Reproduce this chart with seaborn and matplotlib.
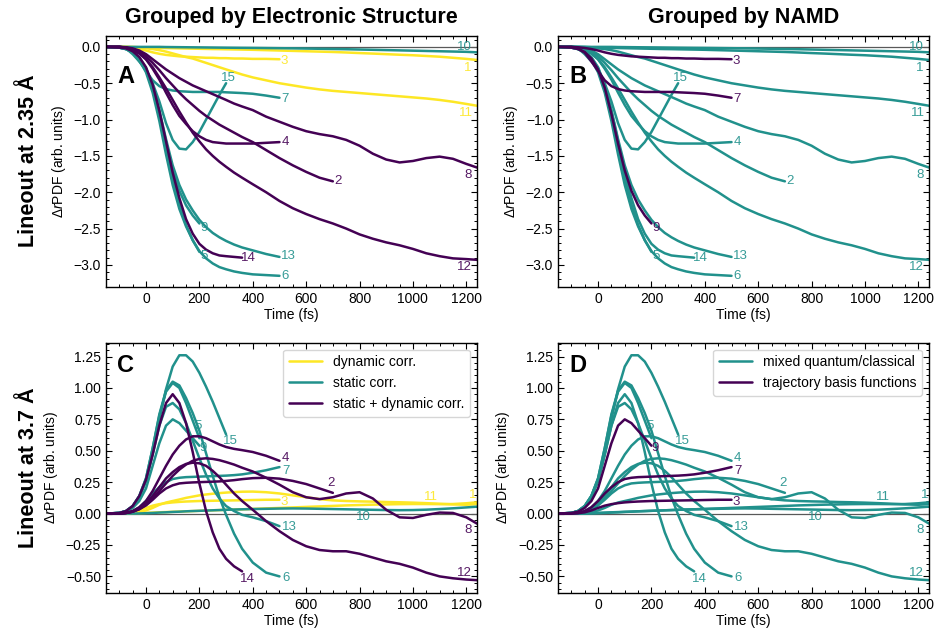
import matplotlib
matplotlib.use('Agg')
from matplotlib import pyplot as plt
from matplotlib.ticker import AutoMinorLocator, MultipleLocator
import seaborn as sns
import pandas as pd

# common time grid (fs); shorter trajectories use the first part of it
TIME = [-150, -100, -75, -50, -25, 0, 25, 50, 75, 100, 125, 150, 175, 200, 225,
        250, 275, 300, 330, 360, 400, 450, 500, 550, 600, 650, 700, 750, 800,
        850, 900, 950, 1000, 1050, 1100, 1150, 1200, 1240]

# lineout at 2.35 A
r235_1 = [0, 0, 0, 0, -0.005, -0.01, -0.012, -0.014, -0.016, -0.018, -0.02, -0.022, -0.024,
          -0.026, -0.028, -0.03, -0.031, -0.033, -0.035, -0.037, -0.04, -0.045, -0.05, -0.055,
          -0.06, -0.065, -0.07, -0.077, -0.085, -0.092, -0.1, -0.108, -0.115, -0.125, -0.135,
          -0.15, -0.165, -0.18]
r235_2 = [0, 0, -0.01, -0.03, -0.07, -0.13, -0.22, -0.32, -0.43, -0.53, -0.63, -0.72, -0.8,
          -0.88, -0.95, -1.01, -1.07, -1.12, -1.18, -1.24, -1.31, -1.42, -1.53, -1.63, -1.72,
          -1.8, -1.85]
r235_3 = [0, 0, -0.005, -0.015, -0.03, -0.05, -0.075, -0.095, -0.11, -0.12, -0.13, -0.135,
          -0.14, -0.145, -0.15, -0.15, -0.155, -0.155, -0.16, -0.16, -0.165, -0.165, -0.17]
r235_4 = [0, 0, -0.01, -0.04, -0.09, -0.17, -0.3, -0.45, -0.63, -0.8, -0.95, -1.06, -1.16,
          -1.23, -1.28, -1.31, -1.32, -1.33, -1.33, -1.33, -1.33, -1.32, -1.31]
r235_5 = [0, -0.01, -0.03, -0.08, -0.18, -0.35, -0.63, -1.02, -1.48, -1.9, -2.23, -2.47,
          -2.66, -2.82]
r235_6 = [0, -0.01, -0.03, -0.07, -0.16, -0.31, -0.57, -0.95, -1.4, -1.82, -2.17, -2.45,
          -2.66, -2.81, -2.91, -2.98, -3.03, -3.06, -3.09, -3.11, -3.13, -3.14, -3.15]
r235_7 = [0, 0, -0.02, -0.08, -0.2, -0.33, -0.46, -0.54, -0.58, -0.6, -0.61, -0.615, -0.62,
          -0.62, -0.62, -0.62, -0.62, -0.625, -0.63, -0.635, -0.645, -0.67, -0.7]
r235_8 = [0, 0, -0.005, -0.02, -0.05, -0.1, -0.17, -0.24, -0.31, -0.37, -0.43, -0.48, -0.53,
          -0.57, -0.61, -0.65, -0.69, -0.73, -0.78, -0.82, -0.87, -0.96, -1.03, -1.1, -1.16,
          -1.2, -1.23, -1.28, -1.36, -1.47, -1.55, -1.59, -1.57, -1.53, -1.51, -1.54, -1.61,
          -1.66]
r235_9 = [0, -0.01, -0.03, -0.07, -0.16, -0.31, -0.56, -0.92, -1.33, -1.7, -1.98, -2.18,
          -2.32, -2.43]
r235_10 = [0, 0, 0, 0, 0, 0, 0, 0, -0.002, -0.003, -0.004, -0.005, -0.006, -0.007, -0.008,
           -0.009, -0.01, -0.011, -0.012, -0.013, -0.014, -0.016, -0.018, -0.02, -0.023,
           -0.026, -0.029, -0.032, -0.036, -0.04, -0.044, -0.048, -0.052, -0.056, -0.06,
           -0.064, -0.068, -0.075]
r235_11 = [0, 0, 0, -0.005, -0.01, -0.02, -0.03, -0.045, -0.065, -0.09, -0.115, -0.14, -0.16,
           -0.19, -0.22, -0.25, -0.28, -0.31, -0.345, -0.38, -0.42, -0.46, -0.5, -0.53, -0.56,
           -0.585, -0.605, -0.62, -0.635, -0.65, -0.665, -0.68, -0.695, -0.71, -0.73, -0.755,
           -0.785, -0.81]
r235_12 = [0, 0, -0.01, -0.04, -0.09, -0.17, -0.28, -0.42, -0.57, -0.73, -0.89, -1.04, -1.18,
           -1.3, -1.41, -1.5, -1.58, -1.65, -1.73, -1.8, -1.89, -2.0, -2.12, -2.22, -2.3,
           -2.37, -2.43, -2.5, -2.58, -2.64, -2.69, -2.73, -2.78, -2.84, -2.88, -2.91, -2.92,
           -2.93]
r235_13 = [0, -0.01, -0.03, -0.07, -0.15, -0.29, -0.53, -0.87, -1.27, -1.63, -1.9, -2.1,
           -2.25, -2.38, -2.48, -2.56, -2.62, -2.67, -2.72, -2.76, -2.8, -2.85, -2.89]
r235_14 = [0, -0.01, -0.02, -0.06, -0.14, -0.28, -0.52, -0.88, -1.3, -1.73, -2.08, -2.37,
           -2.57, -2.71, -2.79, -2.84, -2.87, -2.88, -2.89, -2.9]
r235_15 = [0, 0, -0.02, -0.1, -0.2, -0.31, -0.5, -0.75, -1.05, -1.28, -1.4, -1.41, -1.31,
           -1.17, -1.0, -0.83, -0.66, -0.5]

# lineout at 3.7 A
r37_1 = [0, 0, 0, 0.002, 0.004, 0.006, 0.008, 0.01, 0.012, 0.014, 0.016, 0.018, 0.02, 0.022,
         0.024, 0.026, 0.028, 0.03, 0.032, 0.034, 0.037, 0.041, 0.045, 0.049, 0.053, 0.057,
         0.061, 0.065, 0.068, 0.071, 0.073, 0.075, 0.076, 0.076, 0.075, 0.076, 0.082, 0.09]
r37_2 = [0, 0, 0.005, 0.015, 0.035, 0.065, 0.11, 0.16, 0.2, 0.225, 0.24, 0.245, 0.248, 0.25,
         0.252, 0.254, 0.256, 0.26, 0.266, 0.274, 0.282, 0.285, 0.278, 0.26, 0.235, 0.2, 0.165]
r37_3 = [0, 0, 0.003, 0.01, 0.025, 0.045, 0.063, 0.075, 0.083, 0.089, 0.093, 0.096, 0.098,
         0.1, 0.101, 0.102, 0.103, 0.104, 0.105, 0.106, 0.108, 0.11, 0.11]
r37_4 = [0, 0, 0.005, 0.02, 0.05, 0.1, 0.18, 0.28, 0.38, 0.47, 0.54, 0.59, 0.615, 0.615, 0.6,
         0.575, 0.55, 0.53, 0.515, 0.505, 0.49, 0.46, 0.42]
r37_5 = [0, 0.005, 0.02, 0.06, 0.14, 0.28, 0.52, 0.78, 0.97, 1.04, 1.0, 0.88, 0.74, 0.6]
r37_6 = [0, 0.005, 0.02, 0.06, 0.14, 0.28, 0.52, 0.79, 0.98, 1.05, 1.02, 0.92, 0.8, 0.66,
         0.48, 0.3, 0.13, -0.01, -0.16, -0.28, -0.39, -0.47, -0.5]
r37_7 = [0, 0, 0.005, 0.02, 0.05, 0.1, 0.16, 0.21, 0.25, 0.275, 0.285, 0.29, 0.292, 0.294,
         0.296, 0.298, 0.3, 0.302, 0.306, 0.312, 0.325, 0.345, 0.37]
r37_8 = [0, 0, 0.005, 0.015, 0.035, 0.07, 0.12, 0.18, 0.24, 0.3, 0.35, 0.39, 0.42, 0.435,
         0.44, 0.435, 0.425, 0.41, 0.39, 0.365, 0.335, 0.285, 0.23, 0.17, 0.13, 0.115, 0.13,
         0.16, 0.17, 0.12, 0.03, -0.03, -0.035, -0.01, 0.008, 0.005, -0.03, -0.08]
r37_9 = [0, 0.005, 0.015, 0.045, 0.1, 0.2, 0.38, 0.56, 0.7, 0.75, 0.72, 0.66, 0.6, 0.54]
r37_10 = [0, 0, 0, 0, 0.001, 0.003, 0.005, 0.008, 0.01, 0.013, 0.015, 0.018, 0.02, 0.022,
          0.024, 0.026, 0.028, 0.03, 0.032, 0.034, 0.036, 0.038, 0.04, 0.041, 0.04, 0.038,
          0.036, 0.034, 0.032, 0.03, 0.028, 0.027, 0.028, 0.031, 0.036, 0.042, 0.049, 0.055]
r37_11 = [0, 0, 0.002, 0.005, 0.012, 0.025, 0.045, 0.07, 0.088, 0.1, 0.112, 0.125, 0.135,
          0.145, 0.152, 0.158, 0.163, 0.167, 0.171, 0.174, 0.175, 0.17, 0.16, 0.145, 0.13,
          0.115, 0.105, 0.1, 0.097, 0.095, 0.092, 0.09, 0.087, 0.083, 0.078, 0.073, 0.07, 0.075]
r37_12 = [0, 0, 0.005, 0.015, 0.04, 0.08, 0.14, 0.21, 0.28, 0.33, 0.37, 0.395, 0.405, 0.4,
          0.38, 0.34, 0.29, 0.23, 0.16, 0.1, 0.03, -0.06, -0.14, -0.21, -0.26, -0.29, -0.3,
          -0.3, -0.32, -0.35, -0.38, -0.4, -0.43, -0.47, -0.5, -0.515, -0.525, -0.53]
r37_13 = [0, 0.005, 0.02, 0.055, 0.13, 0.26, 0.47, 0.7, 0.85, 0.88, 0.83, 0.72, 0.58, 0.44,
          0.31, 0.2, 0.12, 0.06, 0.02, -0.01, -0.03, -0.06, -0.1]
r37_14 = [0, 0.005, 0.02, 0.06, 0.14, 0.27, 0.47, 0.7, 0.88, 0.95, 0.88, 0.72, 0.49, 0.24,
          0.02, -0.15, -0.28, -0.36, -0.42, -0.46]
r37_15 = [0, 0.005, 0.02, 0.055, 0.13, 0.26, 0.48, 0.75, 0.99, 1.17, 1.26, 1.26, 1.21, 1.12,
          1.01, 0.89, 0.76, 0.63]

LINEOUT_235 = [r235_1, r235_2, r235_3, r235_4, r235_5, r235_6, r235_7, r235_8, r235_9,
               r235_10, r235_11, r235_12, r235_13, r235_14, r235_15]
LINEOUT_37 = [r37_1, r37_2, r37_3, r37_4, r37_5, r37_6, r37_7, r37_8, r37_9, r37_10,
              r37_11, r37_12, r37_13, r37_14, r37_15]

# groupings
DYNAMIC = [1, 3, 11]
STATIC_DYNAMIC = [2, 4, 8, 12, 14]
TBF = [3, 7, 9]

ES_ORDER = ['dynamic corr.', 'static corr.', 'static + dynamic corr.']
NAMD_ORDER = ['mixed quantum/classical', 'trajectory basis functions']

YELLOW, TEAL, PURPLE = '#fde725', '#21918c', '#440154'
ES_PAL = dict(zip(ES_ORDER, [YELLOW, TEAL, PURPLE]))
NAMD_PAL = dict(zip(NAMD_ORDER, [TEAL, PURPLE]))

# where the run numbers sit (time, value)
LABELS_235 = {1: (1206, -0.29), 2: (719, -1.85), 3: (519, -0.19), 4: (521, -1.31),
              5: (219, -2.88), 6: (521, -3.15), 7: (519, -0.72), 8: (1206, -1.76),
              9: (219, -2.49), 10: (1194, 0.0), 11: (1200, -0.91), 12: (1194, -3.03),
              13: (535, -2.88), 14: (385, -2.9), 15: (310, -0.43)}
LABELS_37 = {1: (1225, 0.145), 2: (694, 0.24), 3: (519, 0.093), 4: (522, 0.44),
             5: (194, 0.70), 6: (525, -0.51), 7: (525, 0.34), 8: (1206, -0.13),
             9: (212, 0.52), 10: (815, -0.03), 11: (1069, 0.13), 12: (1194, -0.47),
             13: (537, -0.11), 14: (381, -0.52), 15: (315, 0.58)}


def es_group(cid):
    if cid in DYNAMIC:
        return ES_ORDER[0]
    if cid in STATIC_DYNAMIC:
        return ES_ORDER[2]
    return ES_ORDER[1]


def namd_group(cid):
    return NAMD_ORDER[1] if cid in TBF else NAMD_ORDER[0]


rows = []
for lineout, curves in [('2.35', LINEOUT_235), ('3.7', LINEOUT_37)]:
    for i, vals in enumerate(curves):
        cid = i + 1
        for t, v in zip(TIME, vals):
            rows.append(dict(lineout=lineout, curve=cid, time=t, value=v,
                             es=es_group(cid), namd=namd_group(cid)))
df = pd.DataFrame(rows)

sns.set_style('ticks')
plt.rcParams['font.family'] = ['Liberation Sans', 'DejaVu Sans']
plt.rcParams['mathtext.fontset'] = 'custom'
plt.rcParams['mathtext.rm'] = 'Liberation Sans'
plt.rcParams['mathtext.it'] = 'Liberation Sans:italic'
plt.rcParams['axes.edgecolor'] = 'black'
plt.rcParams['axes.linewidth'] = 1.0
for key in ('text.color', 'axes.labelcolor', 'xtick.color', 'ytick.color'):
    plt.rcParams[key] = 'black'

fig = plt.figure(figsize=(9.41, 6.37), dpi=100)
ax_a = fig.add_axes([0.1126, 0.5499, 0.3943, 0.3936])
ax_b = fig.add_axes([0.5930, 0.5499, 0.3943, 0.3936])
ax_c = fig.add_axes([0.1126, 0.0695, 0.3943, 0.3925])
ax_d = fig.add_axes([0.5930, 0.0695, 0.3943, 0.3925])


def draw_panel(ax, lineout, hue, order, pal, groupfn, labels, letter, letter_y, legend):
    sub = df[df.lineout == lineout]
    ax.axhline(0, color='0.35', lw=0.9, zorder=1)
    sns.lineplot(data=sub, x='time', y='value', hue=hue, hue_order=order, palette=pal,
                 units='curve', estimator=None, lw=1.8, ax=ax, legend=legend)
    for cid, (tx, ty) in labels.items():
        ax.text(tx, ty, str(cid), color=pal[groupfn(cid)], alpha=0.9, fontsize=9.5,
                ha='center', va='center')
    ax.text(0.03, letter_y, letter, transform=ax.transAxes, fontsize=17,
            fontweight='bold', va='top', ha='left')
    ax.set_xlim(-150, 1240)
    ax.xaxis.set_major_locator(MultipleLocator(200))
    ax.xaxis.set_minor_locator(AutoMinorLocator())
    ax.yaxis.set_minor_locator(AutoMinorLocator())
    ax.tick_params(which='both', direction='in', top=True, right=True, labelsize=10,
                   color='black', labelcolor='black')
    ax.tick_params(which='major', length=4, width=0.8)
    ax.tick_params(which='minor', length=2, width=0.7)
    ax.set_xlabel('Time (fs)', fontsize=10, labelpad=2)
    ax.set_ylabel(r'$\Delta \mathit{r}$PDF (arb. units)', fontsize=10)
    if legend:
        sns.move_legend(ax, 'upper right', title=None, fontsize=10, frameon=True,
                        handlelength=2.4)


draw_panel(ax_a, '2.35', 'es', ES_ORDER, ES_PAL, es_group, LABELS_235, 'A', 0.885, False)
draw_panel(ax_b, '2.35', 'namd', NAMD_ORDER, NAMD_PAL, namd_group, LABELS_235, 'B', 0.885, False)
draw_panel(ax_c, '3.7', 'es', ES_ORDER, ES_PAL, es_group, LABELS_37, 'C', 0.955, True)
draw_panel(ax_d, '3.7', 'namd', NAMD_ORDER, NAMD_PAL, namd_group, LABELS_37, 'D', 0.955, True)

for ax in (ax_a, ax_b):
    ax.set_ylim(-3.3, 0.15)
    ax.yaxis.set_major_locator(MultipleLocator(0.5))
for ax in (ax_c, ax_d):
    ax.set_ylim(-0.63, 1.36)
    ax.yaxis.set_major_locator(MultipleLocator(0.25))

ax_a.set_title('Grouped by Electronic Structure', fontsize=15.5, fontweight='bold', pad=9)
ax_b.set_title('Grouped by NAMD', fontsize=15.5, fontweight='bold', pad=9)
fig.text(0.03, 0.747, 'Lineout at 2.35 Å', rotation=90, fontsize=15.5, fontweight='bold',
         ha='center', va='center')
fig.text(0.03, 0.266, 'Lineout at 3.7 Å', rotation=90, fontsize=15.5, fontweight='bold',
         ha='center', va='center')

fig.savefig('out.png', dpi=100)
